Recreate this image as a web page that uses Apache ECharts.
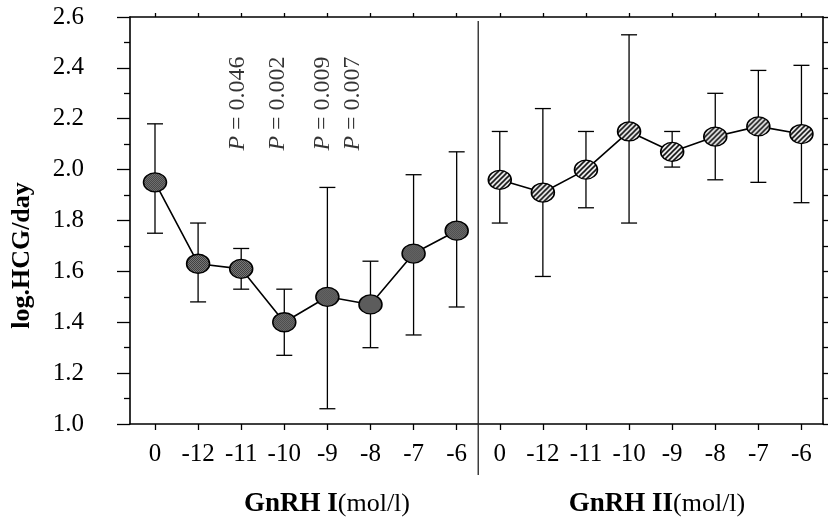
<!DOCTYPE html>
<html>
<head>
<meta charset="utf-8">
<script src="https://cdn.jsdelivr.net/npm/echarts@6/dist/echarts.min.js"></script>
<style>
  html, body { margin: 0; padding: 0; background: #fff; }
  #chart { width: 828px; height: 520px; }
</style>
</head>
<body>
<div id="chart"></div>
<script>
// dose labels, same for both hormones
const doseLabels = ['0', '-12', '-11', '-10', '-9', '-8', '-7', '-6']
// GnRH I
const gnrh1Mean = [1.95, 1.63, 1.61, 1.40, 1.50, 1.47, 1.67, 1.76]
const gnrh1Low = [1.75, 1.48, 1.53, 1.27, 1.06, 1.30, 1.35, 1.46]
const gnrh1High = [2.18, 1.79, 1.69, 1.53, 1.93, 1.64, 1.98, 2.07]
// GnRH II
const gnrh2Mean = [1.96, 1.91, 2.00, 2.15, 2.07, 2.13, 2.17, 2.14]
const gnrh2Low = [1.79, 1.58, 1.85, 1.79, 2.01, 1.96, 1.95, 1.87]
const gnrh2High = [2.15, 2.24, 2.15, 2.53, 2.15, 2.30, 2.39, 2.41]
// p-values written above GnRH I
const pValues = ['0.046', '0.002', '0.009', '0.007']
const pPos = [1.92, 2.85, 3.89, 4.59]

const serif = "'Liberation Serif', 'Times New Roman', Times, serif"
const ink = '#000'
const tickPos = []
for (let i = 0; i < doseLabels.length * 2; i++) tickPos.push(i)

const markerSize = [23, 19]

function stipple() {
  const c = document.createElement('canvas')
  c.width = c.height = 2
  const g = c.getContext('2d')
  g.fillStyle = '#a8a8a8'
  g.fillRect(0, 0, 2, 2)
  g.fillStyle = '#111'
  g.fillRect(0, 0, 1, 1)
  g.fillRect(1, 1, 1, 1)
  return c
}
function hatch() {
  const c = document.createElement('canvas')
  c.width = c.height = 5
  const g = c.getContext('2d')
  g.fillStyle = '#fff'
  g.fillRect(0, 0, 5, 5)
  g.strokeStyle = '#000'
  g.lineWidth = 1.6
  g.beginPath()
  g.moveTo(0, 5); g.lineTo(5, 0)
  g.moveTo(-1, 1); g.lineTo(1, -1)
  g.moveTo(4, 6); g.lineTo(6, 4)
  g.stroke()
  return c
}
// symbols are drawn at size 2 and scaled, so undo that on the pattern
const patternOf = img => ({
  image: img, repeat: 'repeat',
  scaleX: 2 / markerSize[0], scaleY: 2 / markerSize[1]
})

const pts = (means, off) => means.map((v, i) => [i + off, v])
const bars = (lo, hi, off) => lo.map((v, i) => [i + off, v, hi[i]])

function errorBar(params, api) {
  const x = api.value(0)
  const lo = api.coord([x, api.value(1)])
  const hi = api.coord([x, api.value(2)])
  const w = 8
  const style = { stroke: ink, lineWidth: 1.3 }
  return {
    type: 'group',
    children: [
      { type: 'line', shape: { x1: lo[0], y1: lo[1], x2: hi[0], y2: hi[1] }, style },
      { type: 'line', shape: { x1: hi[0] - w, y1: hi[1], x2: hi[0] + w, y2: hi[1] }, style },
      { type: 'line', shape: { x1: lo[0] - w, y1: lo[1], x2: lo[0] + w, y2: lo[1] }, style }
    ]
  }
}

const chart = echarts.init(document.getElementById('chart'))
const axisLine = { onZero: false, lineStyle: { color: ink, width: 1.6 } }
const tickStyle = { color: ink, width: 1.3 }
const richTitle = {
  b: { fontFamily: serif, fontWeight: 'bold', fontSize: 27, color: ink },
  n: { fontFamily: serif, fontWeight: 'normal', fontSize: 26, color: ink }
}

chart.setOption({
  animation: false,
  grid: { left: 130, right: 5, top: 17, bottom: 96, outerBoundsMode: 'none', containLabel: false },
  title: [
    {
      text: '{b|GnRH I}{n|(mol/l)}', left: 322, top: 486, textAlign: 'center',
      textStyle: { fontWeight: 'normal', rich: richTitle }
    },
    {
      text: '{b|GnRH II}{n|(mol/l)}', left: 652, top: 486, textAlign: 'center',
      textStyle: { fontWeight: 'normal', rich: richTitle }
    }
  ],
  xAxis: [
    {
      type: 'value', min: -0.58, max: 15.5, position: 'bottom',
      axisLine,
      splitLine: { show: false },
      axisTick: { customValues: tickPos, length: 6, lineStyle: tickStyle },
      axisLabel: {
        customValues: tickPos, margin: 18,
        fontFamily: serif, fontSize: 25, color: ink,
        formatter: v => doseLabels[Math.round(v) % doseLabels.length]
      }
    },
    {
      type: 'value', min: -0.58, max: 15.5, position: 'top',
      axisLine,
      splitLine: { show: false },
      axisTick: { customValues: tickPos, length: 4, lineStyle: tickStyle },
      axisLabel: { show: false }
    }
  ],
  yAxis: [
    {
      type: 'value', min: 1.0, max: 2.6, interval: 0.2, position: 'left',
      name: 'log.HCG/day', nameLocation: 'middle', nameGap: 95,
      nameTextStyle: {
        fontFamily: serif, fontWeight: 'bold', fontSize: 26, color: ink,
        padding: [0, 70, 0, 0]
      },
      axisLine: { show: true, onZero: false, lineStyle: { color: ink, width: 1.6 } },
      splitLine: { show: false },
      axisTick: { length: 13, lineStyle: tickStyle },
      minorTick: { show: true, splitNumber: 2, length: 6, lineStyle: tickStyle },
      axisLabel: {
        margin: 46, fontFamily: serif, fontSize: 25, color: ink,
        formatter: v => v.toFixed(1)
      }
    },
    {
      type: 'value', min: 1.0, max: 2.6, interval: 0.2, position: 'right',
      axisLine: { show: true, onZero: false, lineStyle: { color: ink, width: 1.6 } },
      splitLine: { show: false },
      axisTick: { length: 5, lineStyle: tickStyle },
      minorTick: { show: true, splitNumber: 2, length: 5, lineStyle: tickStyle },
      axisLabel: { show: false }
    }
  ],
  series: [
    {
      // divider between the two experiments
      type: 'custom', clip: false, silent: true, z: 1,
      data: [[7.5]],
      renderItem: (params, api) => {
        const top = api.coord([7.5, 2.6])
        const bottom = api.coord([7.5, 1.0])
        return {
          type: 'line',
          shape: { x1: top[0], y1: top[1] + 4, x2: bottom[0], y2: bottom[1] + 51 },
          style: { stroke: '#222', lineWidth: 1.3 }
        }
      }
    },
    { type: 'custom', renderItem: errorBar, data: bars(gnrh1Low, gnrh1High, 0), encode: { x: 0, y: [1, 2] }, z: 2 },
    { type: 'custom', renderItem: errorBar, data: bars(gnrh2Low, gnrh2High, 8), encode: { x: 0, y: [1, 2] }, z: 2 },
    {
      type: 'line', data: pts(gnrh1Mean, 0), z: 3,
      symbol: 'circle', symbolSize: markerSize,
      lineStyle: { color: ink, width: 1.6 },
      itemStyle: { color: patternOf(stipple()), borderColor: ink, borderWidth: 1.4 }
    },
    {
      type: 'line', data: pts(gnrh2Mean, 8), z: 3,
      symbol: 'circle', symbolSize: markerSize,
      lineStyle: { color: ink, width: 1.6 },
      itemStyle: { color: patternOf(hatch()), borderColor: ink, borderWidth: 1.4 }
    },
    {
      type: 'scatter', symbolSize: 0, silent: true,
      data: pPos.map((x, i) => [x, 2.26, pValues[i]]),
      label: {
        show: true, position: 'inside', rotate: 90,
        formatter: p => '{i|P} = ' + p.value[2],
        fontFamily: serif, fontSize: 24, color: ink,
        rich: { i: { fontFamily: serif, fontStyle: 'italic', fontSize: 24, color: ink } }
      }
    }
  ]
})
</script>
</body>
</html>
